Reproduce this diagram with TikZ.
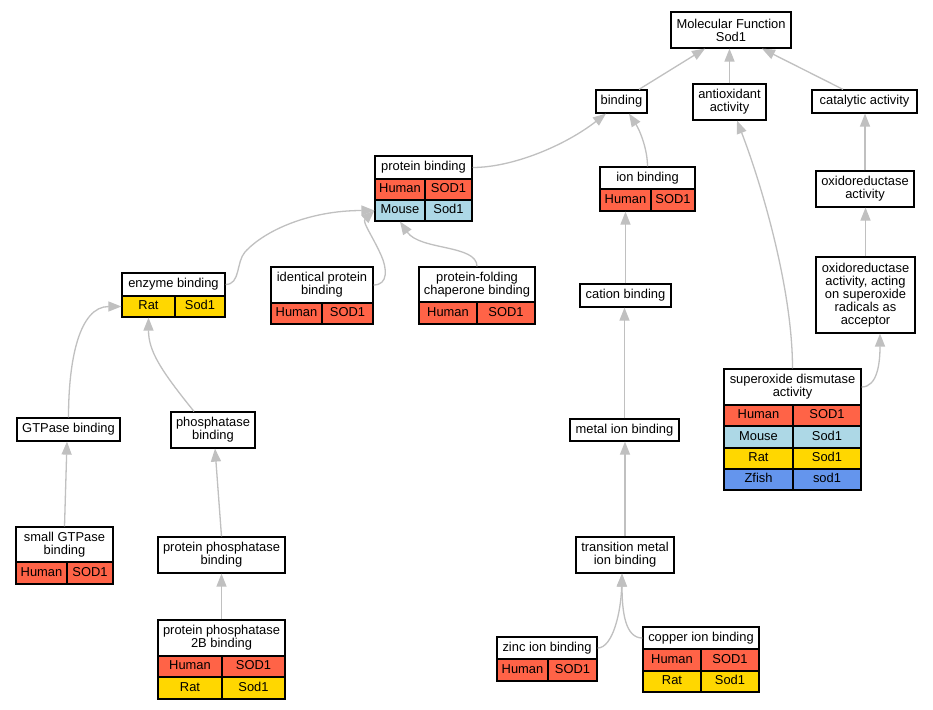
\documentclass[tikz,border=0pt]{standalone}
\usepackage{fontspec}
\newfontfamily\lblfont{Liberation Sans}
\usetikzlibrary{arrows.meta}
\definecolor{hum}{HTML}{FF6347}
\definecolor{mou}{HTML}{ADD8E6}
\definecolor{rat}{HTML}{FFD700}
\definecolor{zf}{HTML}{6495ED}
\definecolor{edgec}{HTML}{C0C0C0}
\newcommand\mkhdr[7][]{%
  \node[gobox, #1, minimum width={#4-#3}, minimum height={#6-#5}] (#2) at ({(#3+#4)/2},{(#5+#6)/2}) {#7};}
\newcommand\mkrow[9]{%
  \node[gobox, oneline, fill=#7, minimum width={#3-#2}, minimum height={#6-#5}] (#1a) at ({(#2+#3)/2},{(#5+#6)/2}) {#8};
  \node[gobox, oneline, fill=#7, minimum width={#4-#3}, minimum height={#6-#5}] (#1b) at ({(#3+#4)/2},{(#5+#6)/2}) {#9};}
\tikzset{
  gobox/.style={draw=black, line width=1.2pt, fill=white, inner sep=0pt, align=center,
    font=\lblfont\fontsize{12.9}{13}\selectfont, text=black},
  oneline/.style={text height=9.3pt, text depth=2.7pt},
  conn/.style={draw=edgec, line width=1.3pt, -{Triangle[length=13pt,width=10pt]}}
}
\begin{document}
\begin{tikzpicture}[x=1pt,y=-1pt]
\fill[white] (0,0) rectangle (933,709);
\useasboundingbox (0,0) rectangle (933,709);

\mkhdr{mf}{671}{791}{12}{48}{Molecular Function\\Sod1}
\mkhdr[oneline]{bind}{596}{647}{90}{113}{binding}
\mkhdr{anti}{693}{766}{84}{120}{antioxidant\\activity}
\mkhdr[oneline]{cat}{812}{917}{90}{113}{catalytic activity}
\mkhdr[oneline]{pb}{375}{472}{156}{179}{protein binding}
\mkrow{pb1}{375}{425}{472}{179}{200}{hum}{Human}{SOD1}
\mkrow{pb2}{375}{425}{472}{200}{221}{mou}{Mouse}{Sod1}
\mkhdr[oneline]{ion}{600}{695}{167}{189}{ion binding}
\mkrow{ion1}{600}{651}{695}{189}{211}{hum}{Human}{SOD1}
\mkhdr{oxa}{816}{914}{171}{207}{oxidoreductase\\activity}
\mkhdr[oneline]{eb}{122}{225}{273}{296}{enzyme binding}
\mkrow{eb1}{122}{175}{225}{296}{317}{rat}{Rat}{Sod1}
\mkhdr{ident}{271}{373}{267}{303}{identical protein\\binding}
\mkrow{ident1}{271}{322}{373}{303}{324}{hum}{Human}{SOD1}
\mkhdr{chap}{419}{535}{267}{302}{protein-folding\\chaperone binding}
\mkrow{chap1}{419}{477}{535}{302}{324}{hum}{Human}{SOD1}
\mkhdr[oneline]{cation}{580}{671}{284}{307}{cation binding}
\mkhdr{oxs}{816}{915}{257}{333}{oxidoreductase\\activity, acting\\on superoxide\\radicals as\\acceptor}
\mkhdr{sod}{724}{861}{369}{405}{superoxide dismutase\\activity}
\mkrow{sod1}{724}{793}{861}{405}{426}{hum}{Human}{SOD1}
\mkrow{sod2}{724}{793}{861}{426}{448}{mou}{Mouse}{Sod1}
\mkrow{sod3}{724}{793}{861}{448}{469}{rat}{Rat}{Sod1}
\mkrow{sod4}{724}{793}{861}{469}{490}{zf}{Zfish}{sod1}
\mkhdr[oneline]{gtp}{17}{120}{418}{441}{GTPase binding}
\mkhdr{phos}{171}{255}{412}{448}{phosphatase\\binding}
\mkhdr[oneline]{metal}{570}{679}{419}{441}{metal ion binding}
\mkhdr{sgtp}{16}{113}{527}{562}{small GTPase\\binding}
\mkrow{sgtp1}{16}{67}{113}{562}{584}{hum}{Human}{SOD1}
\mkhdr{ppb}{158}{285}{537}{573}{protein phosphatase\\binding}
\mkhdr{trans}{576}{674}{537}{573}{transition metal\\ion binding}
\mkhdr{pp2b}{158}{285}{620}{656}{protein phosphatase\\2B binding}
\mkrow{pp2b1}{158}{222}{285}{656}{677}{hum}{Human}{SOD1}
\mkrow{pp2b2}{158}{222}{285}{677}{699}{rat}{Rat}{Sod1}
\mkhdr[oneline]{zinc}{497}{597}{637}{659}{zinc ion binding}
\mkrow{zinc1}{497}{548}{597}{659}{681}{hum}{Human}{SOD1}
\mkhdr[oneline]{cu}{643}{759}{627}{649}{copper ion binding}
\mkrow{cu1}{643}{701}{759}{649}{671}{hum}{Human}{SOD1}
\mkrow{cu2}{643}{701}{759}{671}{692}{rat}{Rat}{Sod1}

% connectors
\draw[conn] ([xshift=17.5pt]bind.north) -- ([xshift=-26pt]mf.south);
\draw[conn] (anti.north) -- (anti.north |- mf.south);
\draw[conn] ([xshift=-21.5pt]cat.north) -- ([xshift=31pt]mf.south);
\draw[conn] (pb.east) .. controls +(40,0) and +(-41,32) .. ([xshift=-15.5pt]bind.south);
\draw[conn] (ion.north) .. controls +(0,-17) and +(11,17) .. ([xshift=7.5pt]bind.south);
\draw[conn] (sod.north) .. controls +(0,-79) and +(25,65) .. ([xshift=7.5pt]anti.south);
\draw[conn] (oxa.north) -- (oxa.north |- cat.south);
\draw[conn] (oxs.north) -- (oxs.north |- oxa.south);
\draw[conn] (sod.east) .. controls +(16,0) and +(0,29) .. ([xshift=14.5pt]oxs.south);
\draw[conn] (cation.north) -- (ion1a.south);
\draw[conn] (metal.north) -- (metal.north |- cation.south);
\draw[conn] (trans.north) -- (trans.north |- metal.south);
\draw[conn] (zinc.east) .. controls +(15,0) and +(-1,39) .. ([xshift=-3pt]trans.south);
\draw[conn] (cu.west) .. controls +(-17,0) and +(0,39) .. ([xshift=-3pt]trans.south);
\draw[conn] (eb.east) .. controls +(15,0) and (236,262) .. (245,252)
   .. controls (265,230) and (310,210.5) .. (pb2a.west);
\draw[conn] (ident.east) .. controls +(15,0) and (387,268) .. (381,255)
   .. controls (372,235) and (362,222) .. (pb2a.west);
\draw[conn] (chap.north) .. controls +(0,-22) and +(20,29) .. (pb2a.south);
\draw[conn] (gtp.north) .. controls +(0,-58) and +(-42,0) .. (eb1a.west);
\draw[conn] ([xshift=-19pt]phos.north) .. controls +(-34,-42) and +(0,33) .. (eb1a.south);
\draw[conn] (sgtp.north) -- ([xshift=-1.5pt]gtp.south);
\draw[conn] (ppb.north) -- ([xshift=2pt]phos.south);
\draw[conn] (pp2b.north) -- (ppb.south);
\end{tikzpicture}
\end{document}
